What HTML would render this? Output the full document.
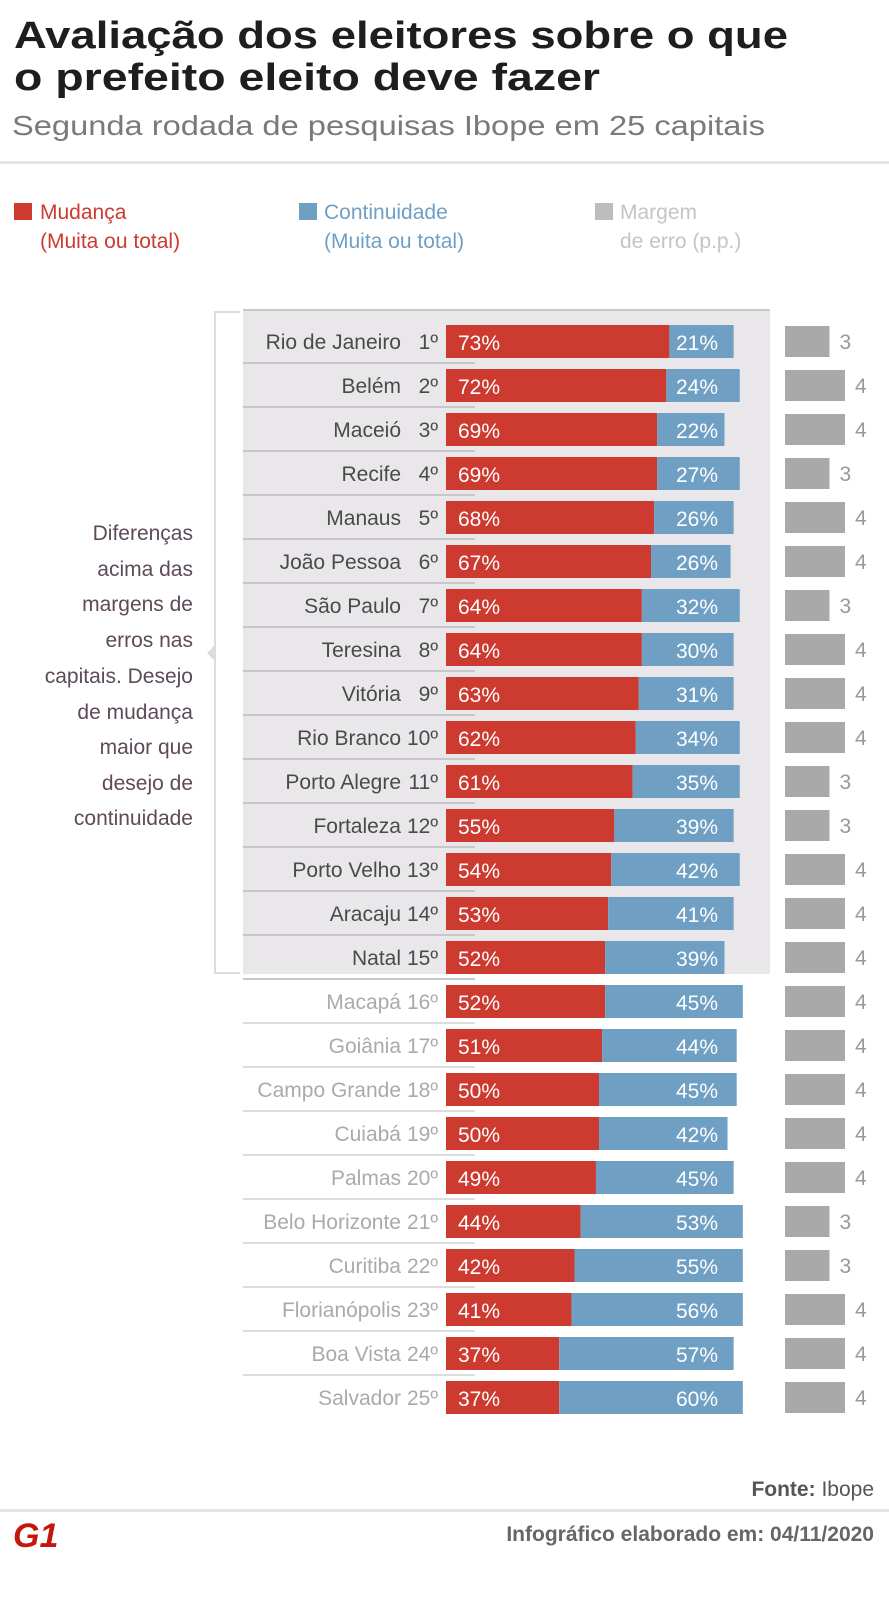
<!DOCTYPE html>
<html><head><meta charset="utf-8"><style>
html,body{margin:0;padding:0;background:#fff;}
svg{display:block;font-family:"Liberation Sans",sans-serif;}
</style></head><body>
<svg id="chart" width="889" height="1600" viewBox="0 0 889 1600" xmlns="http://www.w3.org/2000/svg">
<text x="14" y="48" font-size="38" font-weight="bold" fill="#1e1e1e" textLength="774" lengthAdjust="spacingAndGlyphs">Avaliação dos eleitores sobre o que</text>
<text x="14" y="90" font-size="38" font-weight="bold" fill="#1e1e1e" textLength="586" lengthAdjust="spacingAndGlyphs">o prefeito eleito deve fazer</text>
<text x="12" y="135" font-size="28" fill="#7a7a7a" textLength="753" lengthAdjust="spacingAndGlyphs">Segunda rodada de pesquisas Ibope em 25 capitais</text>
<rect x="0" y="161" width="889" height="3" fill="#e4e4e4"/>
<g font-size="21">
<rect x="14" y="203" width="18" height="17" fill="#cc3a30"/>
<text x="40" y="219" fill="#cc3a30">Mudança</text>
<text x="40" y="248" fill="#cc3a30">(Muita ou total)</text>
<rect x="299" y="203" width="18" height="17" fill="#6fa0c4"/>
<text x="324" y="219" fill="#6fa0c4">Continuidade</text>
<text x="324" y="248" fill="#6fa0c4">(Muita ou total)</text>
<rect x="595" y="203" width="18" height="17" fill="#bdbdbd"/>
<text x="620" y="219" fill="#c4c4c4">Margem</text>
<text x="620" y="248" fill="#c4c4c4">de erro (p.p.)</text>
</g>
<rect x="243" y="310" width="527" height="664" fill="#e9e7ea"/>
<rect x="243" y="309" width="527" height="2" fill="#c8c8c8"/>
<path d="M240 312 H215 V973 H240" fill="none" stroke="#dcdcdc" stroke-width="2"/>
<path d="M215 645 L207 653 L215 661 Z" fill="#dcdcdc"/>
<g font-size="21" fill="#5e4a58" text-anchor="end">
<text x="193" y="540">Diferenças</text>
<text x="193" y="576">acima das</text>
<text x="193" y="611">margens de</text>
<text x="193" y="647">erros nas</text>
<text x="193" y="683">capitais. Desejo</text>
<text x="193" y="719">de mudança</text>
<text x="193" y="754">maior que</text>
<text x="193" y="790">desejo de</text>
<text x="193" y="825">continuidade</text>
</g>
<g id="rows"></g>
<text x="874" y="1496" font-size="21" fill="#555" text-anchor="end"><tspan font-weight="bold">Fonte:</tspan> Ibope</text>
<rect x="0" y="1509" width="889" height="3" fill="#e4e4e4"/>
<text x="13" y="1547" font-size="34" font-weight="bold" font-style="italic" fill="#c4170c">G1</text>
<text x="874" y="1541" font-size="21" font-weight="bold" fill="#666" text-anchor="end">Infográfico elaborado em: 04/11/2020</text>
</svg>
<script>
const cities = ["Rio de Janeiro","Belém","Maceió","Recife","Manaus","João Pessoa","São Paulo","Teresina","Vitória","Rio Branco","Porto Alegre","Fortaleza","Porto Velho","Aracaju","Natal","Macapá","Goiânia","Campo Grande","Cuiabá","Palmas","Belo Horizonte","Curitiba","Florianópolis","Boa Vista","Salvador"];
const mudanca = [73,72,69,69,68,67,64,64,63,62,61,55,54,53,52,52,51,50,50,49,44,42,41,37,37];
const continuidade = [21,24,22,27,26,26,32,30,31,34,35,39,42,41,39,45,44,45,42,45,53,55,56,57,60];
const margem = [3,4,4,3,4,4,3,4,4,4,3,3,4,4,4,4,4,4,4,4,3,3,4,4,4];
const highlighted = 15;

const NS = "http://www.w3.org/2000/svg";
const g = document.getElementById("rows");
const x0 = 446, pxPer = 3.06;
const xs = v => v * pxPer;
const rowY = i => 325 + i * 44;
const mX = 785, mPer = 15.5;
function mk(tag, attrs, text) {
  const e = document.createElementNS(NS, tag);
  for (const k in attrs) e.setAttribute(k, attrs[k]);
  if (text !== undefined) e.textContent = text;
  g.appendChild(e);
  return e;
}
cities.forEach((c, i) => {
  const y = rowY(i), h = 33;
  const dark = i < highlighted;
  let e;
  if (i < cities.length - 1) {
    e = mk("rect", {x: 243, y: y + h + 4, width: 232, height: 2, fill: dark ? "#c9c6ca" : "#dcdcdc"});
    
    
  }
  e = mk("text", {x: 401, y: y + 24, "font-size": 21, fill: dark ? "#4a4a4a" : "#aaaaaa", "text-anchor": "end"}, c);
  
  
  e = mk("text", {x: 438, y: y + 24, "font-size": 21, fill: dark ? "#4a4a4a" : "#aaaaaa", "text-anchor": "end"}, (i + 1) + "º");
  
  
  const wr = xs(mudanca[i]), wb = xs(continuidade[i]);
  e = mk("rect", {x: x0, y: y, width: wr, height: h, fill: "#cc3a30"});
  
  
  e = mk("rect", {x: x0 + wr, y: y, width: wb, height: h, fill: "#6fa0c4"});
  
  
  e = mk("text", {x: x0 + 12, y: y + 25, "font-size": 21, fill: "#fff"}, mudanca[i] + "%");
  
  
  e = mk("text", {x: 718, y: y + 25, "font-size": 21, fill: "#fff", "text-anchor": "end"}, continuidade[i] + "%");
  
  
  const mw = margem[i] * mPer - 2;
  e = mk("rect", {x: mX, y: y + 1, width: mw, height: 31, fill: "#a9a9a9"});
  
  
  e = mk("text", {x: mX + mw + 10, y: y + 24, "font-size": 21, fill: "#999"}, margem[i]);
  
  
});
</script>
</body></html>
